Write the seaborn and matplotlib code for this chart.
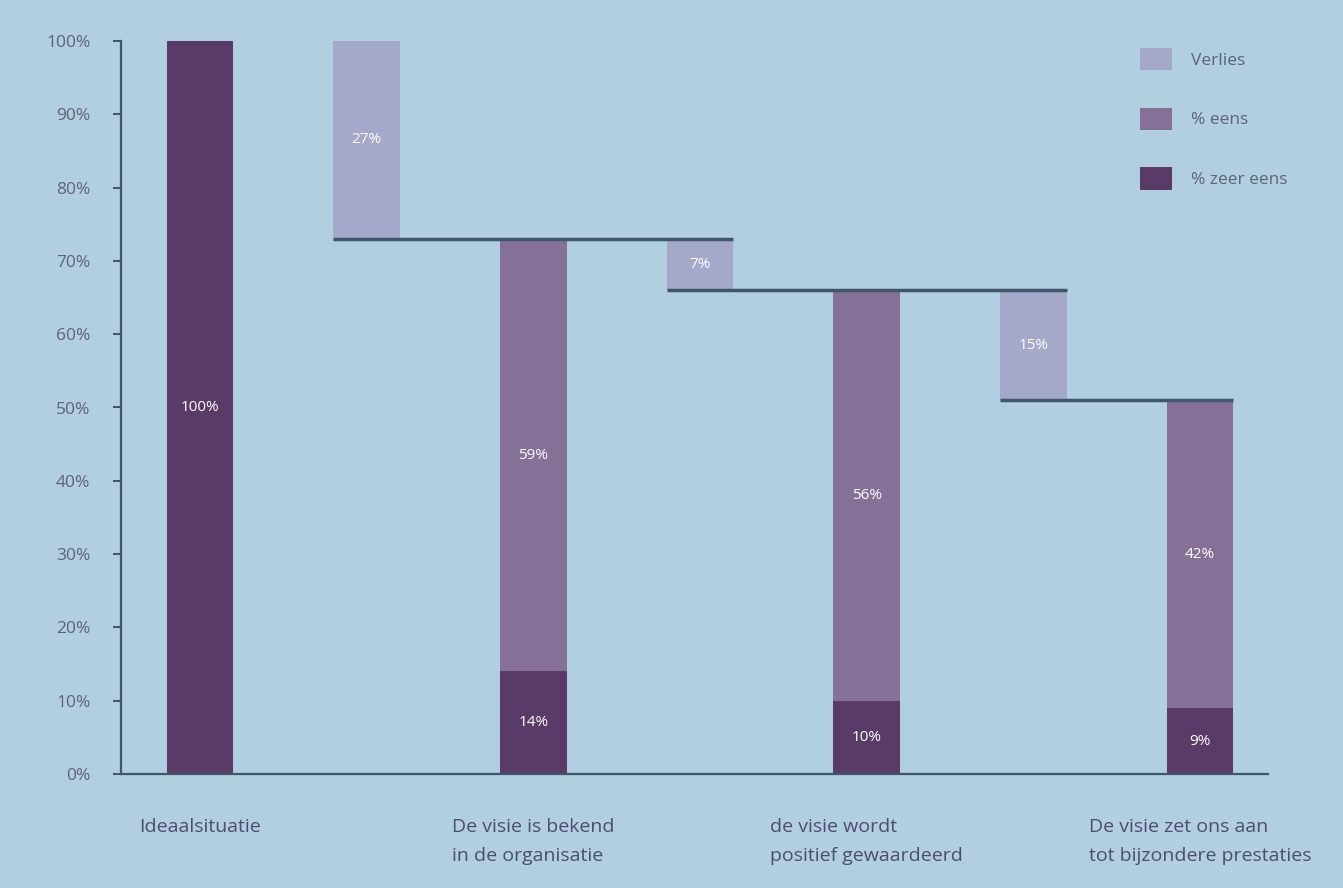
import numpy as np
import pandas as pd
import matplotlib
matplotlib.use("Agg")
import matplotlib.pyplot as plt
from matplotlib.patches import Patch
import seaborn as sns

# ---- data ----
categories = ["Ideaalsituatie",
              "De visie is bekend\nin de organisatie",
              "de visie wordt\npositief gewaardeerd",
              "De visie zet ons aan\ntot bijzondere prestaties"]
zeer_eens = [100, 14, 10, 9]
eens = [0, 59, 56, 42]
verlies = [27, 7, 15]
yticks = [0, 10, 20, 30, 40, 50, 60, 70, 80, 90, 100]
legend_labels = ["Verlies", "% eens", "% zeer eens"]

# ---- style ----
sns.set_theme(style="white")
plt.rcParams["font.family"] = ["Open Sans", "DejaVu Sans"]

BG = "#b2cee1"
C_LOSS = "#a4a9c9"
C_EENS = "#857198"
C_ZEER = "#5a3a66"
C_LINE = "#3f566b"
C_TXT = "#5e6478"
C_CAT = "#4d4d6e"

fig = plt.figure(figsize=(13.43, 8.88), dpi=100, facecolor=BG)
ax = fig.add_axes([121/1343, 1-774/888, (1268-121)/1343, (774-41)/888])
ax.set_facecolor(BG)

main_pos = np.arange(len(categories)) * 2.0
loss_pos = main_pos[:-1] + 1.0
totals = [z + e for z, e in zip(zeer_eens, eens)]
loss_bottom = [totals[i] - verlies[i] for i in range(len(verlies))]

main_df = pd.DataFrame({"pos": main_pos, "zeer": zeer_eens, "eens": eens,
                        "total": totals})
loss_df = pd.DataFrame({"pos": loss_pos, "verlies": verlies,
                        "bottom": loss_bottom})

W = 0.2  # relative to native spacing of 2 -> 0.4 data units
sns.barplot(data=main_df, x="pos", y="eens", native_scale=True, width=W,
            color=C_EENS, saturation=1, bottom=main_df["zeer"].to_numpy(),
            linewidth=0, ax=ax, errorbar=None)
sns.barplot(data=main_df, x="pos", y="zeer", native_scale=True, width=W,
            color=C_ZEER, saturation=1, linewidth=0, ax=ax, errorbar=None)
sns.barplot(data=loss_df, x="pos", y="verlies", native_scale=True, width=W,
            color=C_LOSS, saturation=1, bottom=loss_df["bottom"].to_numpy(),
            linewidth=0, ax=ax, errorbar=None)

half = 0.2
for i, (p, b) in enumerate(zip(loss_pos, loss_bottom)):
    x0 = p - half
    x1 = min(p + 2 + half, main_pos[-1] + half)
    ax.hlines(b, x0, x1, color=C_LINE, lw=2.5, zorder=5)

lab_kw = dict(ha="center", va="center", color="white", fontsize=11, zorder=6)
for p, z, e in zip(main_pos, zeer_eens, eens):
    ax.text(p, z / 2, f"{z}%", **lab_kw)
    if e > 0:
        ax.text(p, z + e / 2, f"{e}%", **lab_kw)
for p, v, b in zip(loss_pos, verlies, loss_bottom):
    ax.text(p, b + v / 2, f"{v}%", **lab_kw)

for p, c in zip(main_pos, categories):
    ax.text(p, -6.0, c, ha="center", va="top", multialignment="left",
            fontsize=14, color=C_CAT, linespacing=1.8)

ax.set_xlim(-0.474, 6.408)
ax.set_ylim(0, 100)
ax.set_yticks(yticks)
ax.set_yticklabels([f"{t}%" for t in yticks], fontsize=12.5, color=C_TXT)
ax.set_xticks([])
ax.set_xlabel("")
ax.set_ylabel("")
for s in ["top", "right"]:
    ax.spines[s].set_visible(False)
for s in ["left", "bottom"]:
    ax.spines[s].set_color(C_LINE)
    ax.spines[s].set_linewidth(1.6)
ax.tick_params(axis="y", direction="out", length=6, width=1.4, color=C_LINE,
               pad=16, left=True)

handles = [Patch(facecolor=c, edgecolor="none") for c in (C_LOSS, C_EENS, C_ZEER)]
leg = fig.legend(handles, legend_labels, loc="upper left",
                 bbox_to_anchor=(1140/1343, 1-48/888), frameon=False,
                 fontsize=12.5, handlelength=1.85, handleheight=1.6,
                 handletextpad=1.1, labelspacing=2.15, borderpad=0,
                 borderaxespad=0)
for t in leg.get_texts():
    t.set_color(C_TXT)

fig.savefig("out.png", dpi=100, facecolor=BG)
